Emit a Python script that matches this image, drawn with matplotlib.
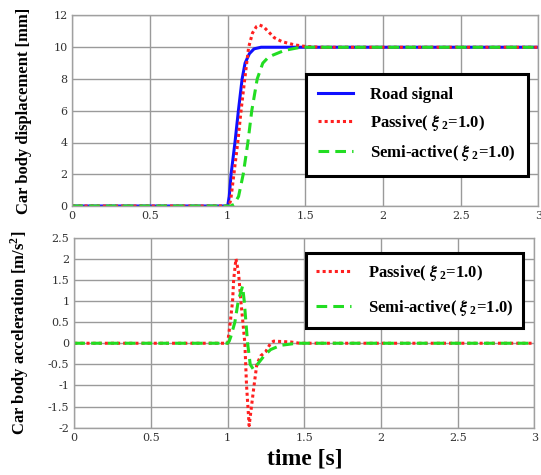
import matplotlib
matplotlib.use('Agg')
import matplotlib.pyplot as plt

plt.rcParams['font.family'] = ['Liberation Serif', 'DejaVu Serif']
plt.rcParams['mathtext.fontset'] = 'custom'
plt.rcParams['mathtext.it'] = 'STIXGeneral:italic:bold'
plt.rcParams['mathtext.rm'] = 'Liberation Serif:bold'
plt.rcParams['mathtext.bf'] = 'Liberation Serif:bold'

# displacement (time [s], value [mm])
t_road = [0, 1.0, 1.01, 1.022, 1.047, 1.069, 1.093, 1.112, 1.14, 1.17, 1.215, 3]
road = [0, 0, 0.6, 2, 4, 6, 8, 9, 9.6, 9.9, 10, 10]

t_pas = [0, 1.0, 1.01, 1.02, 1.04, 1.065, 1.086, 1.11, 1.135, 1.16, 1.185, 1.205,
         1.23, 1.26, 1.3, 1.35, 1.43, 1.5, 1.6, 3]
pas_disp = [0, 0, 0.05, 0.4, 2, 4, 6, 8, 10, 10.9, 11.3, 11.4,
            11.3, 11.0, 10.6, 10.35, 10.15, 10.05, 10, 10]

t_semi = [0, 1.0, 1.02, 1.04, 1.07, 1.1, 1.13, 1.155, 1.19, 1.226, 1.26, 1.29,
          1.365, 1.47, 3]
semi_disp = [0, 0, 0, 0.1, 0.6, 2, 4, 6, 8, 9, 9.35, 9.5, 9.8, 10, 10]

# acceleration (time [s], value [m/s^2])
t_pas_acc = [0, 1.0, 1.017, 1.032, 1.039, 1.054, 1.07, 1.086, 1.112, 1.123, 1.14,
             1.172, 1.19, 1.215, 1.248, 1.28, 1.30, 1.41, 1.47, 3]
pas_acc = [0, 0, 0.5, 1.0, 1.5, 2.0, 1.7, 1.0, 0, -1.0, -1.95,
           -1.0, -0.5, -0.3, -0.2, 0, 0.05, 0.03, 0, 0]

t_semi_acc = [0, 1.0, 1.01, 1.02, 1.047, 1.069, 1.097, 1.108, 1.13, 1.147, 1.168,
              1.194, 1.237, 1.28, 1.345, 1.45, 3]
semi_acc = [0, 0, 0.05, 0.15, 0.5, 1.0, 1.35, 1.0, 0, -0.5, -0.62,
            -0.5, -0.3, -0.15, -0.05, 0, 0]

x_ticks = [0, 0.5, 1, 1.5, 2, 2.5, 3]
x_labels = ['0', '0.5', '1', '1.5', '2', '2.5', '3']
disp_ticks = [0, 2, 4, 6, 8, 10, 12]
acc_ticks = [-2, -1.5, -1, -0.5, 0, 0.5, 1, 1.5, 2, 2.5]
acc_labels = ['-2', '-1.5', '-1', '-0.5', '0', '0.5', '1', '1.5', '2', '2.5']

xi_pas = r'Passive( $\xi_{\ 2}$=1.0)'
xi_semi = r'Semi-active( $\xi_{\ 2}$=1.0)'

fig = plt.figure(figsize=(5.41, 4.75), dpi=100)
ax1 = fig.add_axes([0.1336, 0.5663, 0.8617, 0.4011])
ax2 = fig.add_axes([0.1373, 0.0996, 0.8506, 0.4000])


def style(ax):
    ax.set_xlim(0, 3)
    ax.set_xticks(x_ticks)
    ax.set_xticklabels(x_labels)
    ax.grid(True, color='#9a9a9a', linewidth=1.0)
    ax.set_axisbelow(True)
    for s in ax.spines.values():
        s.set_color('#a0a0a0')
        s.set_linewidth(1.0)
    ax.tick_params(length=0, labelsize=8, labelcolor='#333333', pad=3.5)
    for lab in ax.get_xticklabels() + ax.get_yticklabels():
        lab.set_family('DejaVu Serif')


def boxed_legend(ax, anchor, spacing, pad):
    leg = ax.legend(loc='upper left', bbox_to_anchor=anchor, bbox_transform=fig.transFigure,
                    prop={'weight': 'bold', 'size': 12}, frameon=True, fancybox=False,
                    handlelength=2.1, handletextpad=1.0, borderpad=pad,
                    labelspacing=spacing, borderaxespad=0)
    leg.get_frame().set_edgecolor('black')
    leg.get_frame().set_linewidth(2.2)
    leg.get_frame().set_alpha(1)
    return leg


# Tracer displacement
ax1.plot(t_road, road, color='#1010ff', lw=2.2, label='Road signal')
ax1.plot(t_pas, pas_disp, color='#ff2020', lw=2.2, ls=(0, (1, 1)), label=xi_pas)
ax1.plot(t_semi, semi_disp, color='#22dd22', lw=2.2, ls=(0, (3.5, 2)), label=xi_semi)
style(ax1)
ax1.set_ylim(0, 12)
ax1.set_yticks(disp_ticks)
for lab in ax1.get_yticklabels():
    lab.set_family('DejaVu Serif')
ax1.set_ylabel('Car body displacement [mm]', fontsize=12, fontweight='bold', labelpad=15)
boxed_legend(ax1, (0.5656, 0.8442), 0.62, 0.75)

# Tracer acceleration
ax2.plot(t_pas_acc, pas_acc, color='#ff2020', lw=2.2, ls=(0, (1, 1)), label=xi_pas)
ax2.plot(t_semi_acc, semi_acc, color='#22dd22', lw=2.2, ls=(0, (3.5, 2)), label=xi_semi)
style(ax2)
ax2.set_ylim(-2, 2.5)
ax2.set_yticks(acc_ticks)
ax2.set_yticklabels(acc_labels, family='DejaVu Serif')
ax2.set_ylabel(r'Car body acceleration [m/s$^{2}$]', fontsize=12, fontweight='bold', labelpad=12)
ax2.set_xlabel('time [s]', fontsize=17, fontweight='bold', labelpad=4)
boxed_legend(ax2, (0.5656, 0.4674), 0.9, 0.6)

fig.savefig('out.png', dpi=100)
